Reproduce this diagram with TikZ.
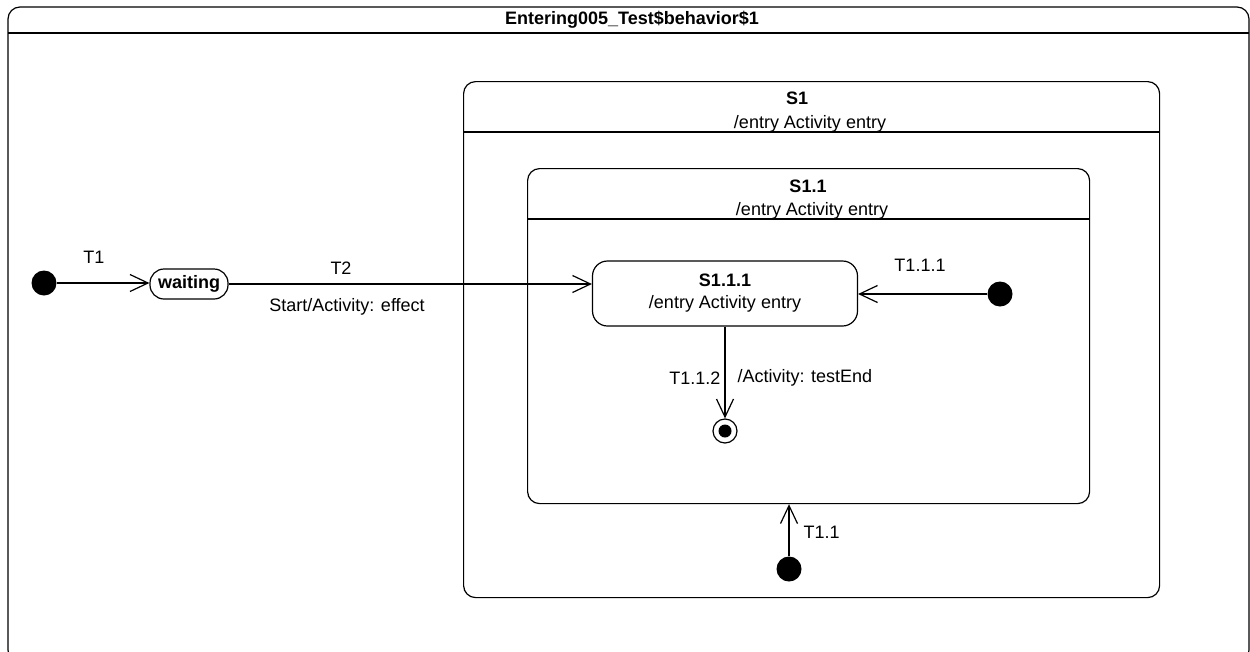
\documentclass[tikz,border=0pt]{standalone}
\usepackage{fontspec}
\setmainfont{Liberation Sans}
\usetikzlibrary{arrows.meta}
\usetikzlibrary{positioning}

\begin{document}
\begin{tikzpicture}[x=1pt,y=-1pt,
    font=\fontsize{18}{22}\selectfont,
    state/.style={draw, line width=1.2pt, rounded corners=12pt, inner sep=0pt},
    pseudo/.style={circle, fill, inner sep=0pt, minimum size=25pt},
    trans/.style={-{Straight Barb[length=18pt,width=17pt,line width=1.2pt]}, line width=1.2pt},
    compartment/.style={line width=1.2pt}]
      \useasboundingbox (0,0) rectangle (1250,651);
      % outer frame
      \draw[state] (8,7) rectangle (1249,662);
      \draw[compartment] (8,33) -- (1249,33);
      \node[font=\fontsize{18}{22}\selectfont\bfseries] (title) at (632,20) {Entering005\_Test\$behavior\$1};

      % composite states
      \node[state, anchor=north west, minimum width=696pt, minimum height=516pt] (S1) at (463,81) {};
      \node[font=\fontsize{18}{22}\selectfont\bfseries] (S1name) at (797,98) {S1};
      \node (S1entry) at (810,124) {/entry Activity entry};
      \draw[compartment] (S1.west |- 0,132) -- (S1.east |- 0,132);

      \node[state, anchor=north west, minimum width=562pt, minimum height=335pt] (S11) at (527,168) {};
      \node[font=\fontsize{18}{22}\selectfont\bfseries] (S11name) at (808,186) {S1.1};
      \node (S11entry) at (812,211) {/entry Activity entry};
      \draw[compartment] (S11.west |- 0,219) -- (S11.east |- 0,219);

      \node[state, rounded corners=15pt, minimum width=265pt, minimum height=65pt, align=center] (S111) at (725,293.5) {\textbf{S1.1.1}\\/entry Activity entry};

      % simple states and pseudostates
      \node[pseudo] (init) at (44,283) {};
      \node[state, rounded corners=14pt, minimum width=78pt, minimum height=30pt, font=\fontsize{18}{22}\selectfont\bfseries] (waiting) at (189,284) {waiting};
      \node[pseudo] (init111) at (1000,294) {};
      \node[pseudo] (init11) at (789,569) {};
      \node[circle, draw, line width=1.2pt, inner sep=0pt, minimum size=24pt] (final) at (725,431) {};
      \fill (final) circle [radius=6.5pt];

      % transitions
      \draw[trans] (init) -- (init -| waiting.west);
      \node (T1) at (94,257) {T1};
      \draw[trans] (waiting.east) -- (waiting.east -| S111.west);
      \node (T2) at (341,268) {T2};
      \node (T2effect) at (347,307) {Start/Activity: effect};
      \draw[trans] (init111) -- (init111 -| S111.east);
      \node (T111) at (920,265) {T1.1.1};
      \draw[trans] (S111.south) -- (final);
      \node[anchor=east] (T112) at (724,378) {T1.1.2};
      \node[anchor=west] (T112effect) at (734,378) {/Activity: testEnd};
      \draw[trans] (init11) -- (init11 |- S11.south);
      \node[anchor=west] (T11) at (800,532) {T1.1};
    \end{tikzpicture}
\end{document}
